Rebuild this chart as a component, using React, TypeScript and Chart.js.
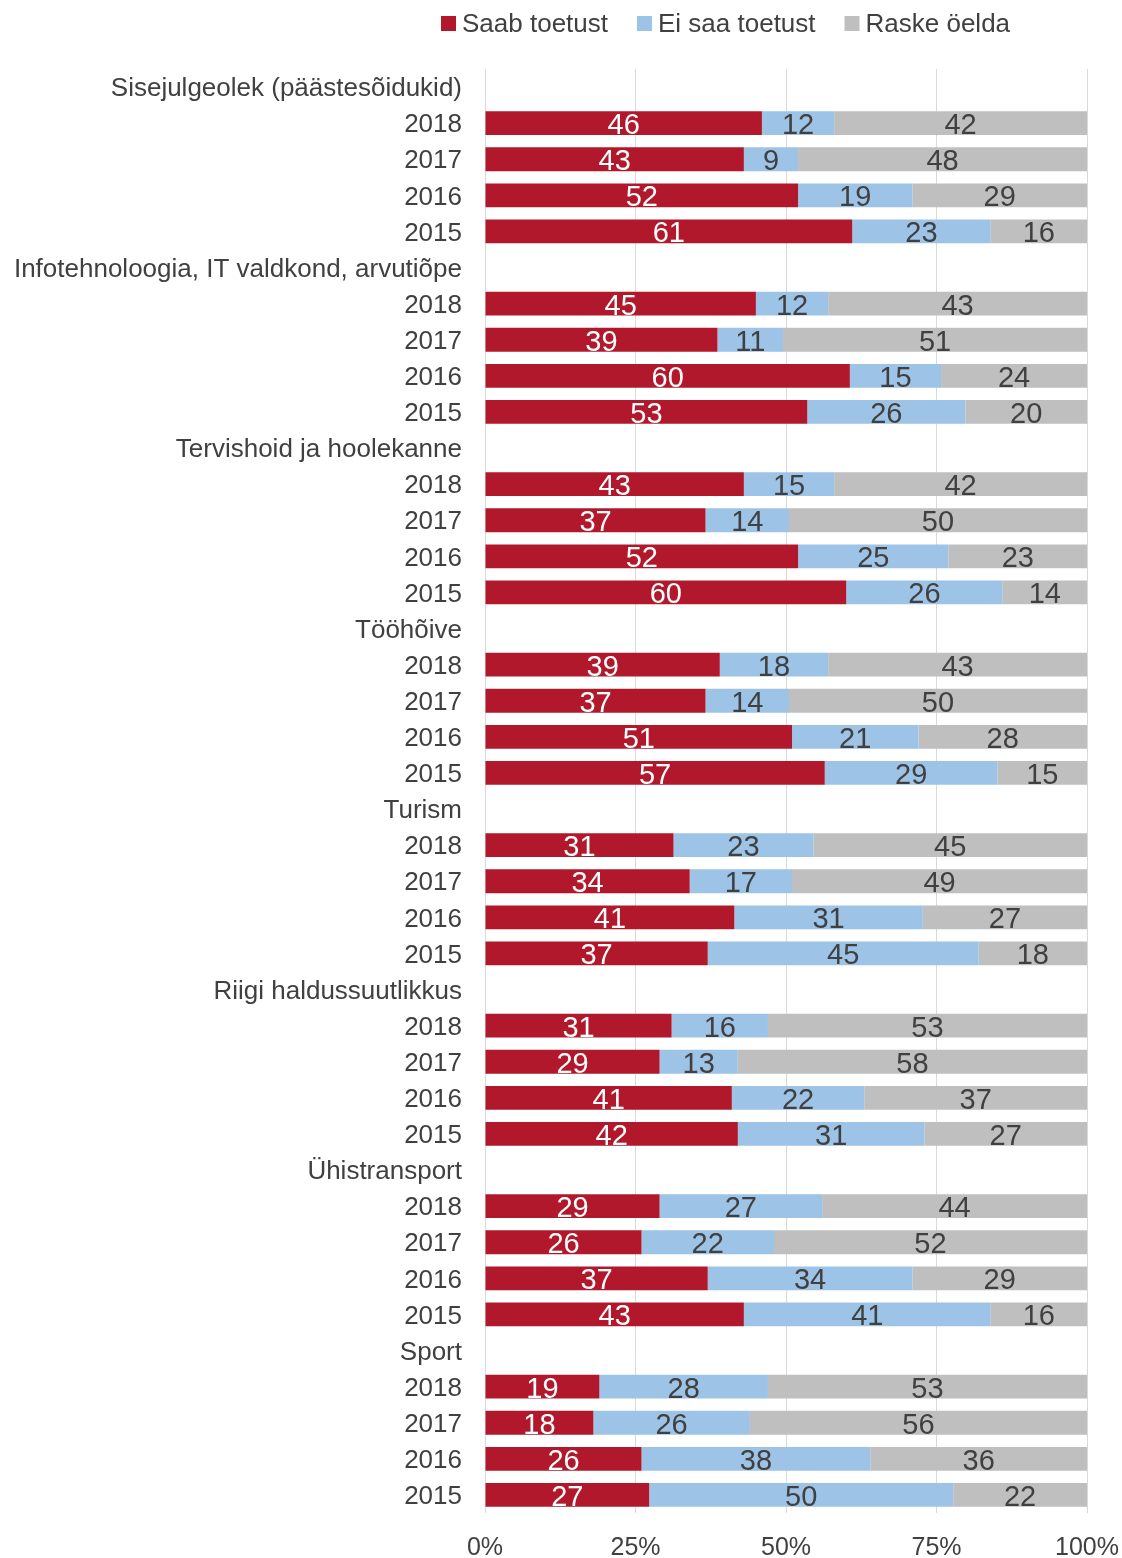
import React, { useEffect, useRef } from 'react';
import { Chart, registerables } from 'chart.js';

Chart.register(...registerables);

const groupNames = [
  'Sisejulgeolek (päästesõidukid)',
  'Infotehnoloogia, IT valdkond, arvutiõpe',
  'Tervishoid ja hoolekanne',
  'Tööhõive',
  'Turism',
  'Riigi haldussuutlikkus',
  'Ühistransport',
  'Sport',
];
const years = ['2018', '2017', '2016', '2015'];

const seriesNames = ['Saab toetust', 'Ei saa toetust', 'Raske öelda'];

const saabToetust = [
  46, 43, 52, 61,
  45, 39, 60, 53,
  43, 37, 52, 60,
  39, 37, 51, 57,
  31, 34, 41, 37,
  31, 29, 41, 42,
  29, 26, 37, 43,
  19, 18, 26, 27,
];
const eiSaaToetust = [
  12, 9, 19, 23,
  12, 11, 15, 26,
  15, 14, 25, 26,
  18, 14, 21, 29,
  23, 17, 31, 45,
  16, 13, 22, 31,
  27, 22, 34, 41,
  28, 26, 38, 50,
];
const raskeOelda = [
  42, 48, 29, 16,
  43, 51, 24, 20,
  42, 50, 23, 14,
  43, 50, 28, 15,
  45, 49, 27, 18,
  53, 58, 37, 27,
  44, 52, 29, 16,
  53, 56, 36, 22,
];
const xTickLabels = ['0%', '25%', '50%', '75%', '100%'];

const COLORS = ['#B2182B', '#9DC3E6', '#BFBFBF'];
const LABEL_COLORS = ['#FFFFFF', '#404040', '#404040'];
const TEXT = '#404040';
const FONT = '"Liberation Sans", Arial, sans-serif';

function buildLabels(): string[] {
  const out: string[] = [];
  groupNames.forEach((g) => {
    out.push(g);
    years.forEach((y) => out.push(y));
  });
  return out;
}

// Raw values per category row (null for group header rows)
function buildRaw(values: number[]): (number | null)[] {
  const out: (number | null)[] = [];
  groupNames.forEach((_, g) => {
    out.push(null);
    years.forEach((_, i) => out.push(values[g * years.length + i]));
  });
  return out;
}

// 100% stacked: each row is normalised to its total, as in the original
function buildShares(values: number[], all: number[][]): (number | null)[] {
  const out: (number | null)[] = [];
  groupNames.forEach((_, g) => {
    out.push(null);
    years.forEach((_, i) => {
      const k = g * years.length + i;
      const total = all.reduce((s, arr) => s + arr[k], 0);
      out.push((values[k] / total) * 100);
    });
  });
  return out;
}

const valueLabelPlugin = {
  id: 'valueLabels',
  afterDatasetsDraw(chart: any) {
    const ctx = chart.ctx;
    const area = chart.chartArea;
    ctx.save();
    ctx.font = `29px ${FONT}`;
    ctx.textAlign = 'center';
    ctx.textBaseline = 'middle';
    chart.data.datasets.forEach((ds: any, di: number) => {
      const meta = chart.getDatasetMeta(di);
      meta.data.forEach((el: any, i: number) => {
        const v = ds.rawValues[i];
        if (v === null || v === undefined) return;
        const p = el.getProps(['x', 'y', 'base'], true);
        const l = Math.max(Math.min(p.x, p.base), area.left);
        const r = Math.min(Math.max(p.x, p.base), area.right);
        ctx.fillStyle = LABEL_COLORS[di];
        ctx.fillText(String(v), (l + r) / 2, p.y + 3);
      });
    });
    ctx.restore();
  },
};

const legendPlugin = {
  id: 'customLegend',
  afterDraw(chart: any) {
    const ctx = chart.ctx;
    ctx.save();
    ctx.font = `26px ${FONT}`;
    ctx.textAlign = 'left';
    ctx.textBaseline = 'middle';
    let x = 441;
    const yc = 24;
    seriesNames.forEach((name, i) => {
      ctx.fillStyle = COLORS[i];
      ctx.fillRect(x, yc - 8, 15, 15);
      x += 15 + 6;
      ctx.fillStyle = TEXT;
      ctx.fillText(name, x, yc + 1);
      x += ctx.measureText(name).width + 29;
    });
    ctx.restore();
  },
};

export default function App() {
  const canvasRef = useRef<HTMLCanvasElement | null>(null);

  useEffect(() => {
    if (!canvasRef.current) return;
    const labels = buildLabels();
    const seriesValues = [saabToetust, eiSaaToetust, raskeOelda];
    const chart = new Chart(canvasRef.current, {
      type: 'bar',
      data: {
        labels,
        datasets: seriesValues.map((vals, i) => ({
          label: seriesNames[i],
          data: buildShares(vals, seriesValues),
          rawValues: buildRaw(vals),
          backgroundColor: COLORS[i],
          borderWidth: 0,
          barPercentage: 0.66,
          categoryPercentage: 1,
        })),
      },
      options: {
        indexAxis: 'y',
        responsive: false,
        animation: false,
        layout: { padding: { top: 69, right: 35, bottom: 0, left: 0 } },
        plugins: {
          legend: { display: false },
          tooltip: { enabled: false },
        },
        scales: {
          x: {
            stacked: true,
            min: 0,
            max: 100,
            position: 'bottom',
            grid: { color: '#D9D9D9', lineWidth: 1, drawTicks: false },
            border: { display: false },
            ticks: {
              stepSize: 25,
              padding: 23,
              color: TEXT,
              font: { family: FONT, size: 25, lineHeight: 1 },
              callback: (v: any) => xTickLabels[Math.round(Number(v) / 25)],
            },
            afterFit: (scale: any) => {
              scale.height = 45;
              scale.paddingLeft = 0;
              scale.paddingRight = 0;
            },
          },
          y: {
            stacked: true,
            grid: { display: false, drawTicks: false },
            border: { display: false },
            ticks: {
              autoSkip: false,
              padding: 23,
              labelOffset: 2,
              color: TEXT,
              font: { family: FONT, size: 26 },
            },
            afterFit: (scale: any) => {
              scale.width = 485;
              scale.paddingTop = 0;
              scale.paddingBottom = 0;
            },
          },
        },
      },
      plugins: [valueLabelPlugin, legendPlugin],
    } as any);
    return () => chart.destroy();
  }, []);

  return (
    <div style={{ position: 'absolute', left: 0, top: 0, width: 1122, height: 1558, background: '#fff' }}>
      <canvas ref={canvasRef} width={1122} height={1558} style={{ display: 'block' }} />
    </div>
  );
}
